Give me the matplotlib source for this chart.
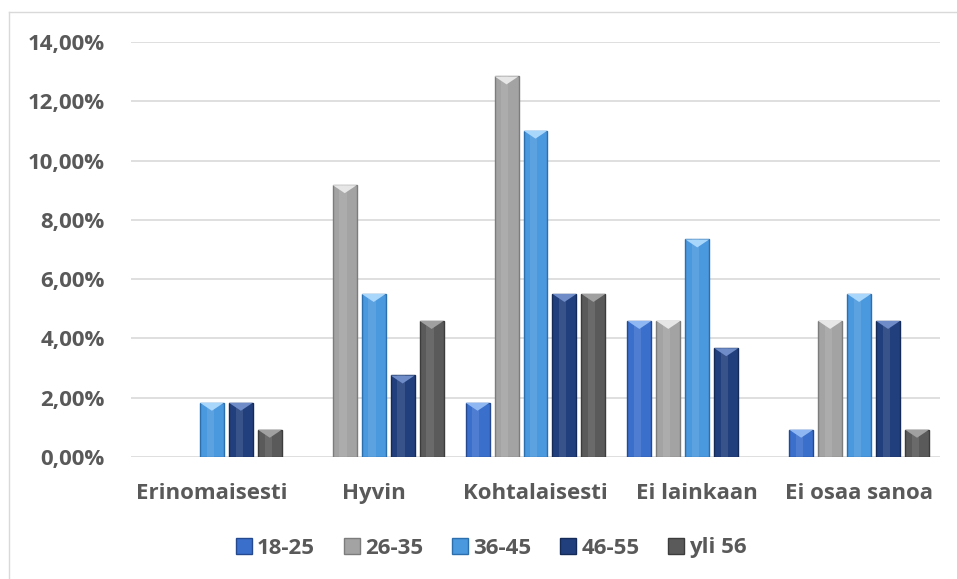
import matplotlib.pyplot as plt
import numpy as np
from matplotlib.patches import Polygon, Rectangle, Patch
from matplotlib.ticker import FuncFormatter
from matplotlib.lines import Line2D

plt.rcParams['font.family'] = ['Open Sans', 'DejaVu Sans']

categories = ['Erinomaisesti', 'Hyvin', 'Kohtalaisesti', 'Ei lainkaan', 'Ei osaa sanoa']
groups = ['18-25', '26-35', '36-45', '46-55', 'yli 56']

# osuudet vastaajista (%), n = 109
v_18_25 = [0.00, 0.00, 1.83, 4.59, 0.92]
v_26_35 = [0.00, 9.17, 12.84, 4.59, 4.59]
v_36_45 = [1.83, 5.50, 11.01, 7.34, 5.50]
v_46_55 = [1.83, 2.75, 5.50, 3.67, 4.59]
v_yli_56 = [0.92, 4.59, 5.50, 0.00, 0.92]
series = [v_18_25, v_26_35, v_36_45, v_46_55, v_yli_56]

colors = ['#3b6fcc', '#a3a3a3', '#4a98de', '#223f7d', '#5a5a5a']
edges = ['#24498f', '#7c7c7c', '#2c6fae', '#142a57', '#3c3c3c']
tops = ['#8fb8f2', '#e6e6e6', '#a9d6fb', '#6f8cc8', '#a0a0a0']
text_col = '#595959'

fig = plt.figure(figsize=(9.57, 5.79), dpi=100)
ax = fig.add_axes([131 / 957, 1 - 457 / 579, (940 - 131) / 957, (457 - 42) / 579])

# outer chart frame
fig.add_artist(Line2D([9 / 957, 9 / 957], [0, 1 - 12 / 579], color='#d9d9d9', lw=1,
                      transform=fig.transFigure))
fig.add_artist(Line2D([9 / 957, 1], [1 - 12 / 579, 1 - 12 / 579], color='#d9d9d9', lw=1,
                      transform=fig.transFigure))

x = np.arange(len(categories))
step = 0.179
width = 0.148
ymax = 14
px_per_unit = (457 - 42) / ymax
tri_h = 8 / px_per_unit

for i, vals in enumerate(series):
    offs = (i - 2) * step
    for xi, v in zip(x, vals):
        if v <= 0:
            continue
        x0 = xi + offs - width / 2
        ax.add_patch(Rectangle((x0, 0), width, v, facecolor=colors[i],
                               edgecolor=edges[i], lw=1.0, zorder=3))
        # vertical shine strip
        ax.add_patch(Rectangle((x0 + width * 0.28, 0), width * 0.3, v,
                               facecolor='white', alpha=0.10, lw=0, zorder=3.5))
        h = min(tri_h, v)
        ax.add_patch(Polygon([(x0, v), (x0 + width, v), (x0 + width / 2, v - h)],
                             closed=True, facecolor=tops[i], edgecolor='none',
                             zorder=4))

ax.set_xlim(-0.5, len(categories) - 0.5)
ax.set_ylim(0, ymax)
ax.set_yticks(np.arange(0, ymax + 0.1, 2))
ax.yaxis.set_major_formatter(FuncFormatter(lambda v, p: f'{v:.2f}%'.replace('.', ',')))
ax.set_xticks(x)
ax.set_xticklabels(categories)
ax.grid(axis='y', color='#d9d9d9', lw=1.2, zorder=0)
ax.set_axisbelow(True)
for s in ax.spines.values():
    s.set_visible(False)
ax.tick_params(axis='both', length=0, labelcolor=text_col)
ax.tick_params(axis='y', pad=19, labelsize=16)
ax.tick_params(axis='x', pad=19, labelsize=16)
for lab in ax.get_xticklabels() + ax.get_yticklabels():
    lab.set_fontweight('bold')

handles = [Patch(facecolor=colors[i], edgecolor=edges[i], label=g) for i, g in enumerate(groups)]
fig.legend(handles=handles, loc='center', bbox_to_anchor=(0.5 + 13 / 957, 1 - 548 / 579),
           ncol=5, frameon=False, prop={'size': 16, 'weight': 'bold'}, labelcolor=text_col,
           handlelength=0.7, handleheight=0.7, handletextpad=0.25, columnspacing=1.3)

fig.savefig('out.png', dpi=100)
